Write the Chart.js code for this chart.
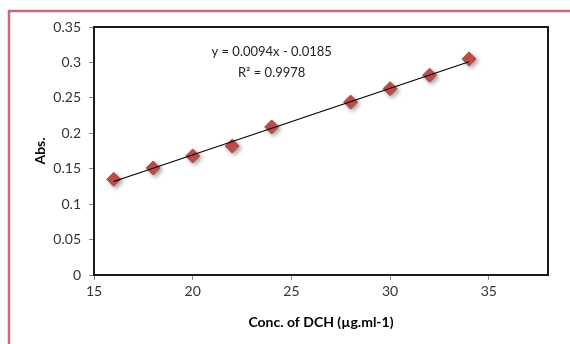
<!DOCTYPE html>
<html><head><meta charset="utf-8">
<script src="https://cdn.jsdelivr.net/npm/chart.js@4"></script>
<style>html,body{margin:0;padding:0;background:#fff;}#wrap{width:570px;height:344px;position:relative}</style>
</head><body><div id="wrap"><canvas id="c" width="570" height="344"></canvas></div>
<script>
const concentrations = [16, 18, 20, 22, 24, 28, 30, 32, 34];
const absorbances = [0.135, 0.151, 0.168, 0.182, 0.209, 0.244, 0.263, 0.282, 0.305];
const trendX = [16, 34];
const trendY = [0.132, 0.301];
const xTicks = [15, 20, 25, 30, 35];
const yTicks = [0, 0.05, 0.1, 0.15, 0.2, 0.25, 0.3, 0.35];
const equationText = 'y = 0.0094x - 0.0185';
const r2Text = 'R² = 0.9978';
const xTitle = 'Conc. of DCH (µg.ml-1)';
const yTitle = 'Abs.';

const FONT = 'Lato, "Open Sans", sans-serif';

const decor = {
  id: 'decor',
  beforeDraw(chart) {
    const ctx = chart.ctx;
    ctx.save();
    ctx.fillStyle = '#ffffff';
    ctx.fillRect(0, 0, chart.width, chart.height);
    ctx.strokeStyle = '#c86a7a';
    ctx.lineWidth = 2.5;
    ctx.beginPath();
    ctx.moveTo(9, 346);
    ctx.lineTo(9, 11);
    ctx.lineTo(572, 11);
    ctx.stroke();
    ctx.restore();
  },
  beforeDatasetDraw(chart, args) {
    if (args.index === 1) {
      const ctx = chart.ctx;
      ctx.save();
      ctx.shadowColor = 'rgba(0,0,0,0.35)';
      ctx.shadowBlur = 4;
      ctx.shadowOffsetX = 2;
      ctx.shadowOffsetY = 2;
    }
  },
  afterDatasetDraw(chart, args) {
    if (args.index === 1) chart.ctx.restore();
  },
  afterDraw(chart) {
    const ctx = chart.ctx, a = chart.chartArea;
    ctx.save();
    ctx.strokeStyle = '#1a1a1a';
    ctx.lineWidth = 2;
    ctx.strokeRect(a.left, a.top, a.right - a.left, a.bottom - a.top);
    const xs = chart.scales.x, ys = chart.scales.y;
    ctx.fillStyle = '#222';
    ctx.font = '13px ' + FONT;
    ctx.textAlign = 'center';
    ctx.textBaseline = 'middle';
    ctx.fillText(equationText, xs.getPixelForValue(24), ys.getPixelForValue(0.3147));
    ctx.fillText(r2Text, xs.getPixelForValue(24), ys.getPixelForValue(0.285));
    ctx.restore();
  }
};

new Chart(document.getElementById('c'), {
  type: 'scatter',
  data: {
    datasets: [
      {
        type: 'line',
        data: trendX.map((x, i) => ({ x, y: trendY[i] })),
        borderColor: '#000',
        borderWidth: 1.2,
        pointRadius: 0,
        fill: false
      },
      {
        data: concentrations.map((x, i) => ({ x, y: absorbances[i] })),
        pointStyle: 'rectRot',
        pointRadius: 7,
        backgroundColor: '#c0504d',
        borderColor: '#b5443f',
        borderWidth: 1
      }
    ]
  },
  options: {
    responsive: false,
    animation: false,
    devicePixelRatio: 1,
    layout: { padding: { left: 12, right: 22, top: 27, bottom: 0 } },
    plugins: { legend: { display: false }, tooltip: { enabled: false } },
    scales: {
      x: {
        type: 'linear', min: 15, max: 38,
        afterBuildTicks: s => { s.ticks = xTicks.map(v => ({ value: v })); },
        afterFit: s => { s.height = 69; },
        ticks: { color: '#333', font: { size: 14, family: FONT }, padding: 3 },
        grid: { drawOnChartArea: false, drawTicks: true, tickLength: 5, color: '#888' },
        border: { display: true, color: '#333', width: 2 },
        title: { display: true, text: xTitle, color: '#000', font: { size: 14, weight: 'bold', family: FONT }, padding: { top: 0, bottom: 13 } }
      },
      y: {
        min: 0, max: 0.35,
        afterBuildTicks: s => { s.ticks = yTicks.map(v => ({ value: v })); },
        afterFit: s => { s.width = 82; },
        ticks: { color: '#333', font: { size: 14, family: FONT }, padding: 8, callback: v => String(+v.toFixed(2)) },
        grid: { drawOnChartArea: false, drawTicks: true, tickLength: 5, color: '#888' },
        border: { display: true, color: '#333', width: 2 },
        title: { display: true, text: yTitle, color: '#000', font: { size: 14, weight: 'bold', family: FONT }, padding: { top: 20, bottom: 0 } }
      }
    }
  },
  plugins: [decor]
});
</script></body></html>
